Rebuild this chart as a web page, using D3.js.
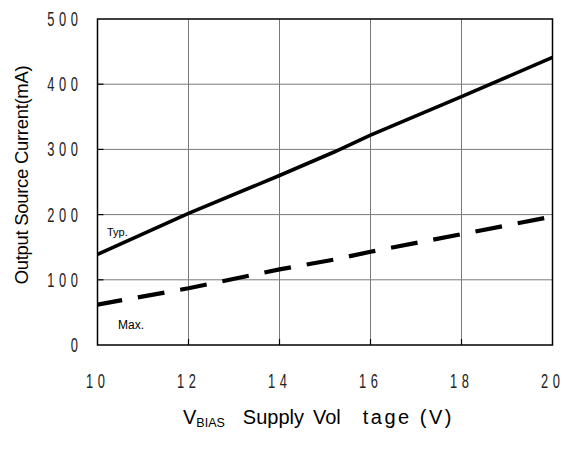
<!DOCTYPE html>
<html><head><meta charset="utf-8">
<script src="https://cdn.jsdelivr.net/npm/d3@7"></script>
<style>body{margin:0;background:#fff}</style>
</head><body>
<svg id="c" width="566" height="451"></svg>
<script>
const xTicks = [10, 12, 14, 16, 18, 20];
const yTicks = [0, 100, 200, 300, 400, 500];
const voltage = [10, 12, 14, 15.2, 16, 18, 20];
const typCurrent = [139, 202, 260, 296, 322, 381, 441];
const maxCurrent = [62, 87, 116, 131, 143, 170, 197];

const svg = d3.select("#c");
const L = 97.5, R = 552.5, T = 19, B = 345;
const x = d3.scaleLinear().domain([10, 20]).range([L, R]);
const y = d3.scaleLinear().domain([0, 500]).range([B, T]);

// grid
svg.append("g").selectAll("line").data(yTicks.slice(1, -1)).join("line")
  .attr("x1", L).attr("x2", R).attr("y1", d => y(d)).attr("y2", d => y(d))
  .attr("stroke", "#7a7a7a").attr("stroke-width", 1);
svg.append("g").selectAll("line").data(xTicks.slice(1, -1)).join("line")
  .attr("y1", T).attr("y2", B).attr("x1", d => x(d)).attr("x2", d => x(d))
  .attr("stroke", "#7a7a7a").attr("stroke-width", 1);
// inner tick marks
svg.append("g").selectAll("line").data(yTicks.slice(1, -1)).join("line")
  .attr("x1", L).attr("x2", L + 6).attr("y1", d => y(d)).attr("y2", d => y(d))
  .attr("stroke", "#000").attr("stroke-width", 1.2);
svg.append("g").selectAll("line").data(xTicks.slice(1, -1)).join("line")
  .attr("y1", B).attr("y2", B - 6).attr("x1", d => x(d)).attr("x2", d => x(d))
  .attr("stroke", "#000").attr("stroke-width", 1.2);
// frame
svg.append("rect").attr("x", L).attr("y", T).attr("width", R - L).attr("height", B - T)
  .attr("fill", "none").attr("stroke", "#000").attr("stroke-width", 1.5);

// tick labels (tall, narrow, widely spaced digits)
const tickFont = "'Liberation Sans', Arial, sans-serif";
const SX = 0.66, LS = 7;
svg.append("g").selectAll("g").data(yTicks).join("g")
  .attr("transform", d => `translate(${78 + LS * SX},${y(d) + 7}) scale(${SX},1)`)
  .append("text").attr("text-anchor", "end")
  .attr("font-family", tickFont).attr("font-size", 19.5).attr("letter-spacing", LS)
  .attr("fill", "#222").text(d => d);
svg.append("g").selectAll("g").data(xTicks).join("g")
  .attr("transform", d => `translate(${x(d) - 2 + LS * SX / 2},388) scale(${SX},1)`)
  .append("text").attr("text-anchor", "middle")
  .attr("font-family", tickFont).attr("font-size", 19.5).attr("letter-spacing", LS)
  .attr("fill", "#222").text(d => d);

// lines
const line = d3.line().x((d, i) => x(voltage[i])).y(d => y(d));
svg.append("path").attr("d", line(typCurrent)).attr("fill", "none")
  .attr("stroke", "#000").attr("stroke-width", 3.6);
svg.append("path").attr("d", line(maxCurrent)).attr("fill", "none")
  .attr("stroke", "#000").attr("stroke-width", 4.2)
  .attr("stroke-dasharray", "27,16").attr("stroke-dashoffset", 2);

const lab = "'Liberation Sans', Arial, sans-serif";
svg.append("text").attr("x", 107).attr("y", 236).attr("font-family", lab)
  .attr("font-size", 11).text("Typ.");
svg.append("text").attr("x", 118).attr("y", 329).attr("font-family", lab)
  .attr("font-size", 12).text("Max.");

// axis titles
svg.append("text").attr("transform", "translate(28,175) rotate(-90)")
  .attr("text-anchor", "middle").attr("font-family", lab).attr("font-size", 18.5)
  .attr("letter-spacing", -0.3).text("Output Source Current(mA)");

const xt = svg.append("text").attr("x", 183).attr("y", 424)
  .attr("font-family", lab).attr("font-size", 20);
xt.append("tspan").text("V");
xt.append("tspan").attr("font-size", 12.5).attr("dy", 3).text("BIAS");
xt.append("tspan").attr("dy", -3).attr("dx", 18).text("Supply");
xt.append("tspan").attr("dx", 9).text("Vol");
xt.append("tspan").attr("dx", 22).attr("letter-spacing", 2.5).text("tage (V)");
</script>
</body></html>
